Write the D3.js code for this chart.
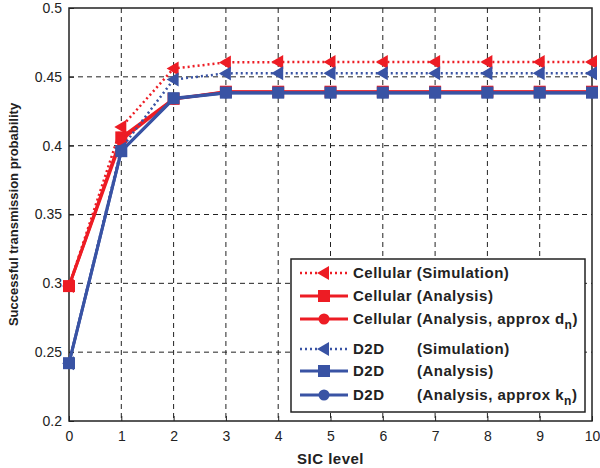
<!DOCTYPE html>
<html>
<head>
<meta charset="utf-8">
<script src="https://cdn.jsdelivr.net/npm/d3@7"></script>
<style>
  body { margin: 0; background: #fff; }
  text { font-family: "Liberation Sans", Arial, sans-serif; }
</style>
</head>
<body>
<svg id="chart" width="600" height="468"></svg>
<script>
// data
var sicLevels = [0, 1, 2, 3, 4, 5, 6, 7, 8, 9, 10];
var cellSim = [0.298, 0.4135, 0.456, 0.4605, 0.4607, 0.4608, 0.4608, 0.4608, 0.4608, 0.4608, 0.4608];
var cellAna = [0.298, 0.406, 0.434, 0.4392, 0.4392, 0.4392, 0.4392, 0.4392, 0.4392, 0.4392, 0.4392];
var cellApx = [0.298, 0.404, 0.4338, 0.439, 0.439, 0.439, 0.439, 0.439, 0.439, 0.439, 0.439];
var d2dSim = [0.242, 0.398, 0.448, 0.4525, 0.4526, 0.4526, 0.4526, 0.4526, 0.4526, 0.4526, 0.4526];
var d2dAna = [0.242, 0.396, 0.4345, 0.4385, 0.4385, 0.4385, 0.4385, 0.4385, 0.4385, 0.4385, 0.4385];
var d2dApx = [0.242, 0.396, 0.434, 0.4383, 0.4383, 0.4383, 0.4383, 0.4383, 0.4383, 0.4383, 0.4383];
var xTicks = [0, 1, 2, 3, 4, 5, 6, 7, 8, 9, 10];
var yTicks = [0.2, 0.25, 0.3, 0.35, 0.4, 0.45, 0.5];

var red = "#ed1c24", blue = "#3953a4";

// z = drawing order (blue squares end up on top, as in the figure)
var series = [
  {name: "Cellular", tag: "(Simulation)", values: cellSim, color: red, dotted: true, marker: "tri", z: 0},
  {name: "Cellular", tag: "(Analysis)", values: cellAna, color: red, dotted: false, marker: "sq", z: 1},
  {name: "Cellular", tag: "(Analysis, approx d", sub: "n", values: cellApx, color: red, dotted: false, marker: "circ", z: 2},
  {name: "D2D", tag: "(Simulation)", values: d2dSim, color: blue, dotted: true, marker: "tri", z: 3},
  {name: "D2D", tag: "(Analysis)", values: d2dAna, color: blue, dotted: false, marker: "sq", z: 5},
  {name: "D2D", tag: "(Analysis, approx k", sub: "n", values: d2dApx, color: blue, dotted: false, marker: "circ", z: 4}
];

var margin = {top: 8, right: 8, bottom: 47, left: 69},
    width = 600 - margin.left - margin.right,
    height = 468 - margin.top - margin.bottom;

var svg = d3.select("#chart")
  .append("g")
    .attr("transform", "translate(" + margin.left + "," + margin.top + ")");

var x = d3.scaleLinear().domain([0, 10]).range([0, width]);
var y = d3.scaleLinear().domain([0.2, 0.5]).range([height, 0]);

// grid
svg.append("g").selectAll("line.gx")
  .data(xTicks.slice(1, -1))
  .enter().append("line")
  .attr("x1", function(d) { return x(d); })
  .attr("x2", function(d) { return x(d); })
  .attr("y1", 0).attr("y2", height)
  .attr("stroke", "#222").attr("stroke-width", 1)
  .attr("stroke-dasharray", "5,4");
svg.append("g").selectAll("line.gy")
  .data(yTicks.slice(1, -1))
  .enter().append("line")
  .attr("y1", function(d) { return y(d); })
  .attr("y2", function(d) { return y(d); })
  .attr("x1", 0).attr("x2", width)
  .attr("stroke", "#222").attr("stroke-width", 1)
  .attr("stroke-dasharray", "5,4");

// axes
var xAxis = svg.append("g")
  .attr("transform", "translate(0," + height + ")")
  .call(d3.axisBottom(x).tickValues(xTicks).tickFormat(d3.format("d")).tickSizeInner(-5).tickSizeOuter(0).tickPadding(10));
var yAxis = svg.append("g")
  .call(d3.axisLeft(y).tickValues(yTicks).tickFormat(function(d) { return String(+d.toFixed(2)); }).tickSizeInner(-5).tickSizeOuter(0).tickPadding(7));
[xAxis, yAxis].forEach(function(a) {
  a.selectAll("text").attr("font-size", "14px").attr("fill", "#222")
    .style("font-family", "'Liberation Sans', Arial, sans-serif");
  a.selectAll("line").attr("stroke", "#222");
  a.select(".domain").attr("stroke", "none");
});

// box
svg.append("rect")
  .attr("width", width).attr("height", height)
  .attr("fill", "none").attr("stroke", "#222").attr("stroke-width", 1.5);

// axis titles
svg.append("text")
  .attr("x", width / 2).attr("y", height + 43)
  .attr("text-anchor", "middle")
  .attr("font-size", "15px").attr("font-weight", "bold").attr("fill", "#222")
  .attr("letter-spacing", "0.5px")
  .text("SIC level");
svg.append("text")
  .attr("transform", "rotate(-90)")
  .attr("x", -height / 2).attr("y", -51)
  .attr("text-anchor", "middle")
  .attr("font-size", "13px").attr("font-weight", "bold").attr("fill", "#222")
  .text("Successful transmission probability");

function drawMarker(g, type, cx, cy, color) {
  if (type === "tri") {
    g.append("path")
      .attr("d", "M" + (cx - 7) + "," + cy + "L" + (cx + 5) + "," + (cy - 7) + "L" + (cx + 5) + "," + (cy + 7) + "Z")
      .attr("fill", color);
  } else if (type === "sq") {
    g.append("rect")
      .attr("x", cx - 6).attr("y", cy - 6).attr("width", 12).attr("height", 12)
      .attr("fill", color);
  } else {
    g.append("circle").attr("cx", cx).attr("cy", cy).attr("r", 5.5).attr("fill", color);
  }
}

var line = d3.line()
  .x(function(d, i) { return x(sicLevels[i]); })
  .y(function(d) { return y(d); });

series.slice().sort(function(a, b) { return a.z - b.z; }).forEach(function(s) {
  var g = svg.append("g");
  g.append("path")
    .datum(s.values)
    .attr("d", line)
    .attr("fill", "none")
    .attr("stroke", s.color)
    .attr("stroke-width", s.dotted ? 2.5 : 3)
    .attr("stroke-dasharray", s.dotted ? "2,3" : null);
  s.values.forEach(function(v, i) {
    drawMarker(g, s.marker, x(sicLevels[i]), y(v), s.color);
  });
});

// legend
var lg = svg.append("g").attr("transform", "translate(" + (291 - margin.left) + "," + (259 - margin.top) + ")");
lg.append("rect")
  .attr("width", 294).attr("height", 153)
  .attr("fill", "#fff").attr("stroke", "#222").attr("stroke-width", 1.5);
var rowY = [14, 37, 60, 90, 112, 136];
series.forEach(function(s, i) {
  var r = lg.append("g").attr("transform", "translate(0," + rowY[i] + ")");
  r.append("line")
    .attr("x1", 9).attr("x2", 57).attr("y1", 0).attr("y2", 0)
    .attr("stroke", s.color)
    .attr("stroke-width", s.dotted ? 2.5 : 3)
    .attr("stroke-dasharray", s.dotted ? "2,3" : null);
  drawMarker(r, s.marker, 33, 0, s.color);
  var isCell = s.name === "Cellular";
  var t = r.append("text")
    .attr("y", 5)
    .attr("font-size", "15px").attr("font-weight", "bold").attr("fill", "#222")
    .attr("letter-spacing", "0.5px");
  if (isCell) {
    t.append("tspan").attr("x", 62).text(s.name + " " + s.tag);
  } else {
    t.append("tspan").attr("x", 62).text(s.name);
    t.append("tspan").attr("x", 126).text(s.tag);
  }
  if (s.sub) {
    t.append("tspan").attr("dy", 5).attr("font-size", "12px").text(s.sub);
    t.append("tspan").attr("dy", -5).text(")");
  }
});
</script>
</body>
</html>
